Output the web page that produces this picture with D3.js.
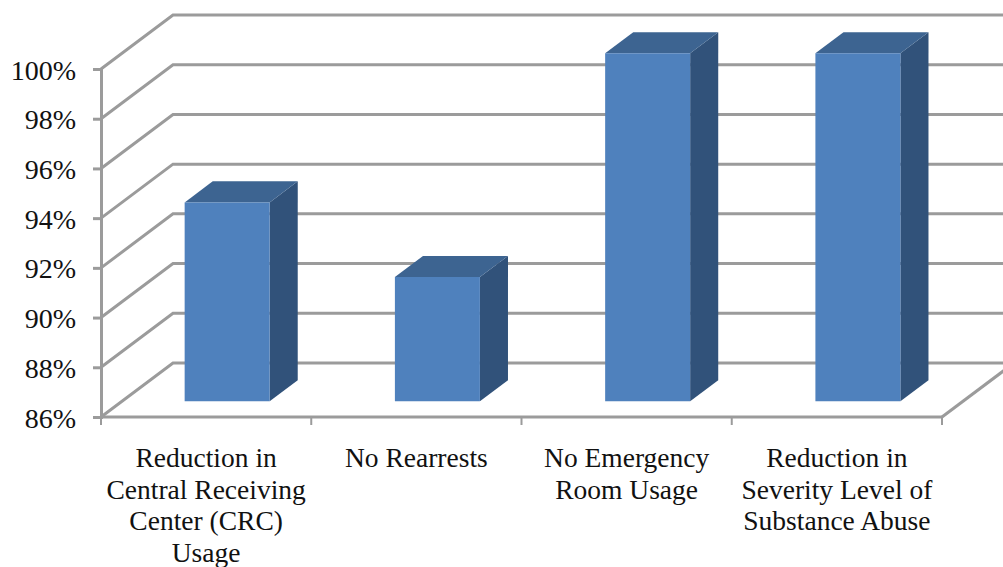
<!DOCTYPE html>
<html>
<head>
<meta charset="utf-8">
<script src="https://cdn.jsdelivr.net/npm/d3@7/dist/d3.min.js"></script>
<style>
html,body{margin:0;padding:0;background:#fff;overflow:hidden}
svg{display:block}
text{font-family:"Liberation Serif",serif;fill:#111}
</style>
</head>
<body>
<div id="chart"></div>
<script>
const categories = [
  ["Reduction in", "Central Receiving", "Center (CRC)", "Usage"],
  ["No Rearrests"],
  ["No Emergency", "Room Usage"],
  ["Reduction in", "Severity Level of", "Substance Abuse"]
];
const values = [94, 91, 100, 100];
const tickValues = [86, 88, 90, 92, 94, 96, 98, 100];

const W = 1003, H = 567;
const axisColor = "#9b9b9b";
const faceColor = "#4f81bd", topColor = "#3d6491", sideColor = "#31527a";

const svg = d3.select("#chart").append("svg").attr("width", W).attr("height", H);

const y = d3.scaleLinear().domain([86, 100]).range([417, 69]);
const x = d3.scaleBand().domain(d3.range(categories.length)).range([101, 942]);

// Oblique projection: depth 0 is the front plane, depth 1 the back wall.
const wallDx = 72, wallDy = -54;
const project = (px, py, depth) => [px + wallDx * depth, py + wallDy * depth];

// Bars stand near the middle of the floor and occupy this share of its depth.
const barDepth = 0.39, barNear = 0.292;
const barWidth = 85;

const line = d3.line();
const backRight = W + 20;

// Gridlines run along the side wall and then across the back wall.
svg.append("g").selectAll("path").data(tickValues).join("path")
  .attr("d", v => line([project(x.range()[0], y(v), 0), project(x.range()[0], y(v), 1), [backRight, y(v) + wallDy]]))
  .attr("fill", "none").attr("stroke", axisColor).attr("stroke-width", 3);

// Floor edge on the right-hand side.
svg.append("path")
  .attr("d", line([project(x.range()[1], y(86), 0), project(x.range()[1], y(86), 1)]))
  .attr("fill", "none").attr("stroke", axisColor).attr("stroke-width", 3);

// Value axis
const yAxis = svg.append("g").attr("transform", `translate(${x.range()[0]},0)`)
  .call(d3.axisLeft(y).tickValues(tickValues).tickFormat(d => d + "%").tickSize(8).tickPadding(17));
yAxis.select(".domain").attr("stroke", axisColor).attr("stroke-width", 3);
yAxis.selectAll(".tick line").attr("stroke", axisColor).attr("stroke-width", 3);
yAxis.selectAll(".tick text").attr("font-size", 28).attr("font-family", "Liberation Serif").attr("fill", "#111").attr("dy", "0.36em");

// Category axis: ticks sit on the band boundaries
const xAxisY = y(86);
const bottom = svg.append("g");
bottom.append("line").attr("x1", x.range()[0]).attr("x2", x.range()[1])
  .attr("y1", xAxisY).attr("y2", xAxisY).attr("stroke", axisColor).attr("stroke-width", 3);
bottom.selectAll("line.t").data(d3.range(categories.length + 1)).join("line").attr("class", "t")
  .attr("x1", i => x.range()[0] + i * x.step()).attr("x2", i => x.range()[0] + i * x.step())
  .attr("y1", xAxisY).attr("y2", xAxisY + 8).attr("stroke", axisColor).attr("stroke-width", 2);

// Bars: side and top faces behind the front face
const bars = svg.append("g").selectAll("g").data(values).join("g");
const cx = i => x(i) + x.bandwidth() / 2;
function corners(v, i) {
  const l = cx(i) - barWidth / 2, r = cx(i) + barWidth / 2;
  const near = barNear, far = barNear + barDepth;
  return {
    fl: project(l, y(86), near), fr: project(r, y(86), near),
    tl: project(l, y(v), near), tr: project(r, y(v), near),
    bl: project(l, y(v), far), br: project(r, y(v), far),
    dr: project(r, y(86), far)
  };
}
bars.append("path").attr("fill", sideColor)
  .attr("d", (v, i) => { const c = corners(v, i); return line([c.tr, c.br, c.dr, c.fr]) + "Z"; });
bars.append("path").attr("fill", topColor)
  .attr("d", (v, i) => { const c = corners(v, i); return line([c.tl, c.bl, c.br, c.tr]) + "Z"; });
bars.append("path").attr("fill", faceColor)
  .attr("d", (v, i) => { const c = corners(v, i); return line([c.tl, c.tr, c.fr, c.fl]) + "Z"; });

// Category labels, wrapped by hand over several lines
const labels = svg.append("g").selectAll("text").data(categories).join("text")
  .attr("text-anchor", "middle").attr("font-size", 27.5);
labels.selectAll("tspan").data((d, i) => d.map((s, j) => ({ s, j, i }))).join("tspan")
  .attr("x", d => cx(d.i)).attr("y", d => 467 + d.j * 31.7).text(d => d.s);
</script>
</body>
</html>
